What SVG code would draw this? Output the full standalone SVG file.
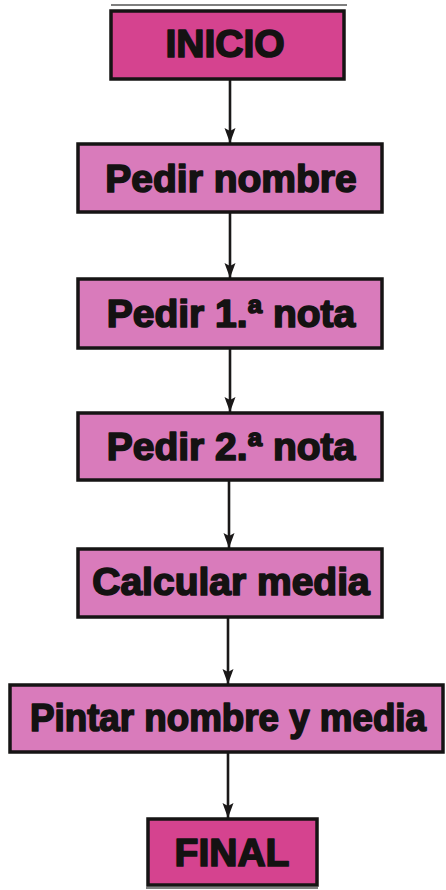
<svg xmlns="http://www.w3.org/2000/svg" width="446" height="890" viewBox="0 0 446 890">
<style>
.box{stroke:#161414;stroke-width:3.5}
.term{fill:#d5438f}
.step{fill:#d97bbb}
.lbl{font-family:"Liberation Sans",Arial,sans-serif;font-weight:bold;font-size:39px;fill:#141212;stroke:#141212;stroke-width:1.7;stroke-linejoin:round;text-anchor:middle}
.conn{stroke:#1a1818;stroke-width:2.6;fill:none}
.edge{stroke:#555;stroke-width:1.5}
</style>
<defs>
<marker id="ah" markerWidth="16" markerHeight="12" refX="15" refY="6" orient="auto" markerUnits="userSpaceOnUse">
<path d="M0,0.5 L15,6 L0,11.5 L3,6 Z" fill="#1a1818"/>
</marker>
</defs>
<rect width="446" height="890" fill="#ffffff"/>
<g id="connectors">
<line class="conn" x1="230" y1="80" x2="230" y2="143" marker-end="url(#ah)"/>
<line class="conn" x1="230" y1="213" x2="230" y2="278" marker-end="url(#ah)"/>
<line class="conn" x1="230" y1="349" x2="230" y2="412" marker-end="url(#ah)"/>
<line class="conn" x1="229" y1="481" x2="229" y2="548" marker-end="url(#ah)"/>
<line class="conn" x1="228" y1="618" x2="228" y2="684" marker-end="url(#ah)"/>
<line class="conn" x1="228" y1="753" x2="228" y2="818" marker-end="url(#ah)"/>
</g>
<g id="inicio">
<line class="edge" x1="111" y1="5" x2="347" y2="5"/>
<rect class="box term" x="111" y="11" width="233" height="68"/>
<text class="lbl" x="225" y="57">INICIO</text>
</g>
<g id="pedir-nombre">
<rect class="box step" x="78" y="144" width="304" height="68"/>
<text class="lbl" x="231" y="192">Pedir nombre</text>
</g>
<g id="pedir-nota1">
<rect class="box step" x="78" y="279" width="304" height="69"/>
<text class="lbl" x="231" y="327">Pedir 1.ª nota</text>
</g>
<g id="pedir-nota2">
<rect class="box step" x="78" y="413" width="304" height="67"/>
<text class="lbl" x="231" y="460">Pedir 2.ª nota</text>
</g>
<g id="calcular-media">
<rect class="box step" x="78" y="549" width="304" height="68"/>
<text class="lbl" x="231" y="595">Calcular media</text>
</g>
<g id="pintar">
<rect class="box step" x="10" y="685" width="433" height="67"/>
<text class="lbl" x="228" y="731" style="font-size:38px" textLength="396" lengthAdjust="spacingAndGlyphs">Pintar nombre y media</text>
</g>
<g id="final">
<rect class="box term" x="148" y="819" width="169" height="66"/>
<text class="lbl" x="232" y="866">FINAL</text>
<line class="edge" x1="146" y1="888" x2="318" y2="888"/>
</g>
</svg>
